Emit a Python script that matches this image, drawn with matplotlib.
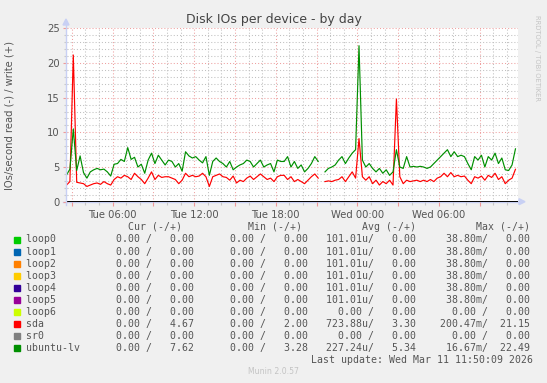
import numpy as np
import pandas as pd
import matplotlib
matplotlib.use("Agg")
import matplotlib.pyplot as plt
import matplotlib.dates as mdates
from matplotlib.patches import Rectangle

# ---------------- data ----------------
start_time = "2026-03-10 02:37"
step = "15min"

sda_write = [2.4, 2.9, 21.15, 2.8, 2.7, 2.6, 2.2, 2.4, 2.6, 2.7,
             2.5, 2.9, 2.6, 2.4, 3.2, 3.6, 3.4, 3.8, 3.6, 3.2,
             4.1, 3.6, 3.2, 2.6, 3.4, 4.3, 3.2, 3.8, 3.5, 3.6,
             3.6, 3.4, 3.2, 2.6, 3.1, 4.1, 3.6, 3.8, 3.6, 3.7,
             4.1, 3.6, 2.2, 3.6, 3.8, 4.0, 3.6, 3.5, 3.1, 3.7,
             2.7, 3.1, 2.9, 3.4, 3.7, 3.2, 3.6, 4.0, 3.6, 3.2,
             3.4, 2.9, 3.6, 3.8, 3.8, 3.2, 3.6, 2.9, 3.2, 2.9,
             2.6, 3.1, 3.6, 4.0, 3.4, np.nan, 2.9, 3.0, 2.9, 3.1,
             3.2, 3.6, 2.9, 3.6, 4.3, 3.4, 9.1, 3.6, 3.1, 3.6,
             2.6, 3.1, 2.4, 2.9, 2.6, 3.1, 2.4, 14.8, 3.6, 2.6,
             3.1, 2.9, 3.0, 3.1, 2.9, 3.1, 2.9, 3.2, 2.9, 3.4,
             3.6, 4.1, 3.6, 4.2, 3.6, 3.8, 3.6, 3.7, 3.1, 2.6,
             3.6, 3.4, 3.7, 3.1, 3.8, 3.5, 4.1, 3.2, 3.6, 2.6,
             3.1, 3.4, 4.67]

ubuntu_lv_write = [3.85, 4.7, 10.5, 4.5, 6.6, 4.2, 3.4, 4.3, 4.6, 4.8,
                   4.6, 4.7, 4.3, 3.7, 5.4, 5.5, 6.1, 5.8, 7.8, 6.1,
                   6.4, 5.0, 5.4, 4.1, 6.0, 7.0, 5.5, 6.7, 6.0, 5.3,
                   6.0, 5.8, 5.0, 5.5, 4.4, 7.2, 6.6, 6.3, 6.5, 6.0,
                   5.6, 6.5, 3.8, 5.8, 6.3, 5.8, 5.5, 5.0, 5.8, 4.6,
                   5.0, 5.3, 5.5, 6.0, 5.8, 5.0, 5.5, 6.0, 5.0, 5.3,
                   5.5, 4.3, 6.0, 5.8, 5.8, 6.5, 5.0, 5.8, 4.8, 5.3,
                   4.3, 4.8, 5.5, 6.5, 5.8, np.nan, 4.3, 4.8, 5.0, 5.3,
                   6.0, 6.5, 5.5, 6.3, 7.0, 7.5, 22.49, 6.0, 5.0, 5.5,
                   4.8, 4.3, 4.8, 4.1, 4.6, 3.8, 4.3, 7.5, 5.0, 4.8,
                   6.5, 5.0, 5.1, 5.0, 5.1, 5.0, 4.8, 5.0, 5.5, 6.0,
                   6.5, 7.0, 7.5, 6.5, 7.2, 6.5, 6.7, 6.5, 5.5, 4.6,
                   6.5, 6.0, 6.7, 5.0, 6.5, 6.0, 7.0, 5.5, 6.3, 4.6,
                   4.5, 5.3, 7.62]

names = ["loop0", "loop1", "loop2", "loop3", "loop4", "loop5", "loop6",
         "sda", "sr0", "ubuntu-lv"]
colors = ["#00cc00", "#0066b3", "#ff8000", "#ffcc00", "#330099", "#990099",
          "#ccff00", "#ff0000", "#808080", "#008f00"]
cur_read = [0, 0, 0, 0, 0, 0, 0, 0, 0, 0]
cur_write = [0, 0, 0, 0, 0, 0, 0, 4.67, 0, 7.62]
min_read = [0, 0, 0, 0, 0, 0, 0, 0, 0, 0]
min_write = [0, 0, 0, 0, 0, 0, 0, 2.00, 0, 3.28]
avg_read = [101.01e-6] * 6 + [0, 723.88e-6, 0, 227.24e-6]
avg_write = [0, 0, 0, 0, 0, 0, 0, 3.30, 0, 5.34]
max_read = [38.80e-3] * 6 + [0, 200.47e-3, 0, 16.67e-3]
max_write = [0, 0, 0, 0, 0, 0, 0, 21.15, 0, 22.49]

title = "Disk IOs per device - by day"
ylabel = "IOs/second read (-) / write (+)"
last_update = "Last update: Wed Mar 11 11:50:09 2026"
x_start = "2026-03-10 02:37"
x_end = "2026-03-11 11:46"

# ---------------- figure ----------------
W, H = 547, 383
fig = plt.figure(figsize=(W / 100, H / 100), dpi=100, facecolor="#f0f0f0")

def fx(px):
    return px / W

def fy(py):
    return 1 - py / H

pl, pr, pt, pb = 66.5, 517.5, 28.3, 201.7
ax = fig.add_axes([fx(pl), fy(pb), fx(pr - pl), (pb - pt) / H])
ax.set_facecolor("white")

times = pd.date_range(start_time, periods=len(sda_write), freq=step)
ax.set_xlim(pd.Timestamp(x_start), pd.Timestamp(x_end))
ax.set_ylim(0, 25)

# grid
minor_c = "#c0c0c0"
major_c = "#eea0a0"
dot = (0, (1, 2))
hours = pd.date_range("2026-03-10 03:00", "2026-03-11 11:00", freq="1h")
for t in hours:
    if t.hour % 3 == 0:
        ax.axvline(t, color=major_c, lw=0.75, ls=dot, zorder=1)
    else:
        ax.axvline(t, color=minor_c, lw=0.75, ls=dot, zorder=1)
for v in range(1, 26):
    if v % 5 == 0:
        ax.axhline(v, color=major_c, lw=0.75, ls=dot, zorder=1)
    else:
        ax.axhline(v, color=minor_c, lw=0.75, ls=dot, zorder=1)

# series
ax.plot(times, sda_write, color="#ff0000", lw=0.85, zorder=3)
ax.plot(times, ubuntu_lv_write, color="#008f00", lw=0.85, zorder=4)
ax.axhline(0, color="black", lw=1.4, zorder=5)

for s in ax.spines.values():
    s.set_visible(False)

ax.xaxis.set_major_locator(mdates.HourLocator(byhour=range(0, 24, 3)))
ax.xaxis.set_minor_locator(mdates.HourLocator())

def xfmt(x, pos=None):
    d = mdates.num2date(x)
    if d.hour % 6 == 0:
        return d.strftime("%a %H:%M")
    return ""

ax.xaxis.set_major_formatter(plt.FuncFormatter(xfmt))
ax.set_yticks([0, 5, 10, 15, 20, 25])
ax.set_yticks(range(0, 26), minor=True)
ax.tick_params(axis="both", which="major", labelsize=7.2, labelcolor="#555555",
               color="#ee9999", length=3, width=0.8, pad=2)
ax.tick_params(axis="both", which="minor", color="#c8c8c8", length=2, width=0.8)
ax.tick_params(axis="x", which="major", pad=3)

# axis lines with arrows
axis_c = "#c8d0f4"
fig.add_artist(plt.Line2D([fx(66), fx(66)], [fy(205), fy(24)], color=axis_c, lw=1.0))
fig.add_artist(plt.Line2D([fx(63), fx(521)], [fy(201.7), fy(201.7)], color=axis_c, lw=1.0, zorder=0))
fig.add_artist(plt.Polygon([[fx(63), fy(25)], [fx(69), fy(25)], [fx(66), fy(19)]],
                           closed=True, color=axis_c))
fig.add_artist(plt.Polygon([[fx(519), fy(198.7)], [fx(519), fy(204.7)], [fx(525), fy(201.7)]],
                           closed=True, color=axis_c))

# texts
fig.text(fx(274), fy(23.5), title, ha="center", va="baseline", fontsize=9.0, color="#444444")
fig.text(fx(10), fy(115), ylabel, ha="center", va="center", rotation=90,
         fontsize=7.2, color="#555555")
fig.text(fx(537), fy(15), "RRDTOOL / TOBI OETIKER", ha="center", va="top",
         rotation=270, fontsize=4.9, color="#c4c4c4")

# legend table
mono = "DejaVu Sans Mono"
fs = 7.15
x0 = 26
row0 = 239.5
dy = 12.03

def si(v):
    if v == 0:
        return v, " "
    if abs(v) < 1e-3:
        return v * 1e6, "u"
    if abs(v) < 1:
        return v * 1e3, "m"
    return v, " "

def rd(v):
    n, s = si(v)
    return f"{n:6.2f}{s}/"

header = " " * 17 + "Cur (-/+)" + " " * 11 + "Min (-/+)" + " " * 10 + "Avg (-/+)" + " " * 10 + "Max (-/+)"
fig.text(fx(x0), fy(row0 - dy), header, family=mono, fontsize=fs, color="#555555",
         ha="left", va="center")

for i, name in enumerate(names):
    y = row0 + i * dy
    line = (f"{name:<13}"
            + rd(cur_read[i]) + f"{cur_write[i]:7.2f}" + "    "
            + rd(min_read[i]) + f"{min_write[i]:7.2f}" + "   "
            + rd(avg_read[i]) + f"{avg_write[i]:7.2f}" + "    "
            + rd(max_read[i]) + f"{max_write[i]:7.2f}")
    fig.text(fx(x0), fy(y), line, family=mono, fontsize=fs, color="#555555",
             ha="left", va="center")
    fig.add_artist(Rectangle((fx(14), fy(y + 3)), fx(6), 6 / H, color=colors[i]))

fig.text(fx(533), fy(row0 + 10 * dy), last_update, family=mono, fontsize=fs,
         color="#555555", ha="right", va="center")
fig.text(fx(273), fy(371.7), "Munin 2.0.57", ha="center", va="center",
         fontsize=5.6, color="#c4c4c4")

fig.savefig("out.png", dpi=100, facecolor=fig.get_facecolor())
